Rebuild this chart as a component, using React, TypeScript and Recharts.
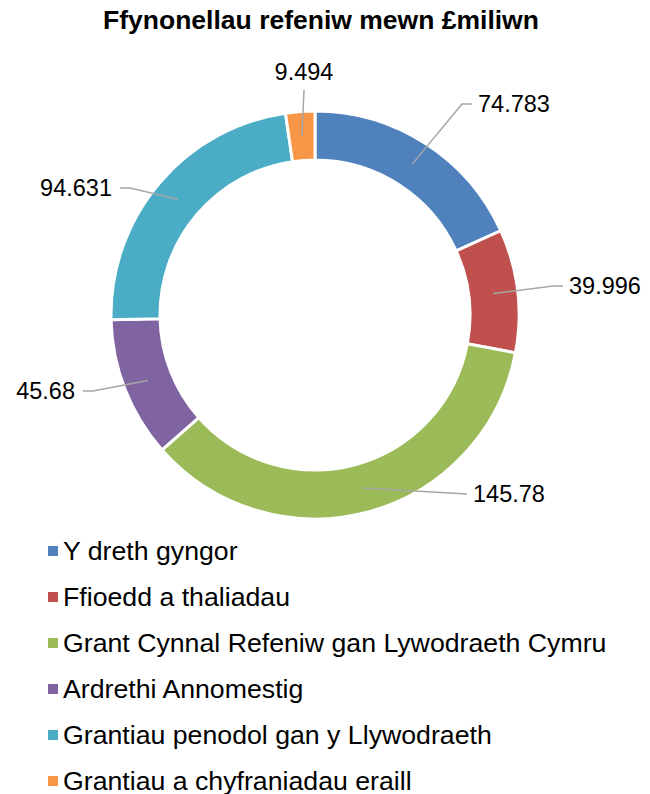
import { PieChart, Pie, Cell } from "recharts"

const CATEGORIES = [
  "Y dreth gyngor",
  "Ffioedd a thaliadau",
  "Grant Cynnal Refeniw gan Lywodraeth Cymru",
  "Ardrethi Annomestig",
  "Grantiau penodol gan y Llywodraeth",
  "Grantiau a chyfraniadau eraill",
]
const VALUES = [74.783, 39.996, 145.78, 45.68, 94.631, 9.494]
const COLORS = ["#4F81BD", "#C0504D", "#9BBB59", "#8064A2", "#4BACC6", "#F79646"]

// where each leader line bends, relative to the pie centre, and where the text sits
const LABEL_ELBOW: [number, number, "right" | "left" | "top"][] = [
  [147, -211, "right"],
  [238, -29, "right"],
  [152, 179, "right"],
  [-222, 76, "left"],
  [-185, -127, "left"],
  [-11, -225, "top"],
]

const data = CATEGORIES.map((name, i) => ({ name, value: VALUES[i] }))

const RADIAN = Math.PI / 180
const FONT = "'Liberation Sans', Arial, sans-serif"

const renderLabel = (props: any) => {
  const { cx, cy, midAngle, innerRadius, outerRadius, index, value } = props
  const r = (innerRadius + outerRadius) / 2
  const sx = cx + r * Math.cos(-midAngle * RADIAN)
  const sy = cy + r * Math.sin(-midAngle * RADIAN)
  const [dx, dy, side] = LABEL_ELBOW[index]
  const ex = cx + dx
  const ey = cy + dy
  let points = `${sx},${sy} ${ex},${ey}`
  let tx = ex
  let ty = ey
  let anchor: "start" | "end" | "middle" = "middle"
  if (side === "right") {
    const hx = index === 2 ? ex : ex + 10
    points += ` ${hx},${ey}`
    tx = hx + 6
    anchor = "start"
  } else if (side === "left") {
    const hx = ex - 10
    points += ` ${hx},${ey}`
    tx = hx - 8
    anchor = "end"
  } else {
    ty = ey - 18
  }
  return (
    <g>
      <polyline points={points} fill="none" stroke="#A6A6A6" strokeWidth={1.5} />
      <text
        x={tx}
        y={ty}
        textAnchor={anchor}
        dominantBaseline="central"
        fontFamily={FONT}
        fontSize={23.5}
        fill="#000"
      >
        {String(value)}
      </text>
    </g>
  )
}

export default function App() {
  return (
    <div style={{ position: "relative", width: 642, height: 786, fontFamily: FONT }}>
      <div
        style={{
          position: "absolute",
          top: -1,
          left: 0,
          width: 626,
          textAlign: "center",
          fontWeight: "bold",
          fontSize: 26.5,
          lineHeight: "26px",
          zIndex: 1,
        }}
      >
        Ffynonellau refeniw mewn £miliwn
      </div>
      <PieChart
        width={642}
        height={520}
        margin={{ top: 0, right: 0, bottom: 0, left: 0 }}
        style={{ overflow: "visible" }}
      >
        <Pie
          data={data}
          dataKey="value"
          nameKey="name"
          cx={307}
          cy={307}
          innerRadius={155}
          outerRadius={204}
          startAngle={90}
          endAngle={-270}
          stroke="#fff"
          strokeWidth={3}
          label={renderLabel}
          labelLine={false}
          isAnimationActive={false}
        >
          {data.map((d, i) => (
            <Cell key={d.name} fill={COLORS[i]} />
          ))}
        </Pie>
      </PieChart>
      <div style={{ position: "absolute", top: 520, left: 40, fontSize: 26.7, color: "#000" }}>
        {CATEGORIES.map((name, i) => (
          <div key={name} style={{ display: "flex", alignItems: "center", height: 46 }}>
            <span
              style={{
                display: "inline-block",
                width: 10,
                height: 10,
                background: COLORS[i],
                marginRight: 5,
              }}
            />
            <span>{name}</span>
          </div>
        ))}
      </div>
    </div>
  )
}
